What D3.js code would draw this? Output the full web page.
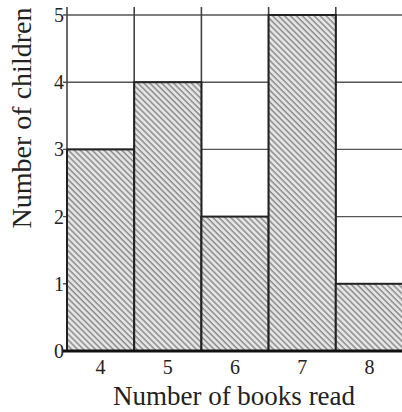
<!DOCTYPE html>
<html><head><meta charset="utf-8">
<script src="https://cdn.jsdelivr.net/npm/d3@7"></script>
<style>body{margin:0;background:#fff}svg{display:block}</style>
</head><body>
<script>
const categories = ["4","5","6","7","8"];
const counts = [3,4,2,5,1];
const yTicks = [0,1,2,3,4,5];
const xTitle = "Number of books read";
const yTitle = "Number of children";

const W = 402, H = 412;
const svg = d3.select("body").append("svg").attr("width", W).attr("height", H);
const font = "'Liberation Serif','Times New Roman',serif";

const defs = svg.append("defs");
const pat = defs.append("pattern").attr("id","hatch").attr("patternUnits","userSpaceOnUse")
  .attr("width",4.2).attr("height",4.2).attr("patternTransform","rotate(-45)");
pat.append("rect").attr("width",4.2).attr("height",4.2).attr("fill","#e6e6e6");
pat.append("line").attr("x1",1).attr("y1",0).attr("x2",1).attr("y2",4.2)
  .attr("stroke","#8a8a8a").attr("stroke-width",1.5);

const x = d3.scaleBand().domain(categories).range([67, 403]).padding(0);
const y = d3.scaleLinear().domain([0,5]).range([351, 15]);
const gridTop = 7;

// horizontal grid
svg.append("g").selectAll("line").data(yTicks.filter(d=>d>0)).join("line")
  .attr("x1", 63).attr("x2", W).attr("y1", d=>y(d)).attr("y2", d=>y(d))
  .attr("stroke","#555").attr("stroke-width",1.4);
// vertical grid
const edges = categories.map(c=>x(c));
svg.append("g").selectAll("line").data(edges).join("line")
  .attr("x1", d=>d).attr("x2", d=>d).attr("y1", gridTop).attr("y2", y(0))
  .attr("stroke","#444").attr("stroke-width",1.6);

// bars
svg.append("g").selectAll("rect").data(categories).join("rect")
  .attr("x", d=>x(d)).attr("width", x.bandwidth())
  .attr("y", (d,i)=>y(counts[i])).attr("height", (d,i)=>y(0)-y(counts[i]))
  .attr("fill","url(#hatch)").attr("stroke","#222").attr("stroke-width",2);

// baseline
svg.append("line").attr("x1",63).attr("x2",W).attr("y1",y(0)).attr("y2",y(0))
  .attr("stroke","#111").attr("stroke-width",3);

// y tick labels
svg.append("g").selectAll("text").data(yTicks).join("text")
  .attr("x", 64).attr("y", d=>y(d)).attr("dy","0.35em").attr("text-anchor","end")
  .attr("font-family",font).attr("font-size",20).attr("fill","#222").text(d=>d);

// x tick labels
svg.append("g").selectAll("text").data(categories).join("text")
  .attr("x", d=>x(d)+x.bandwidth()/2).attr("y", 374).attr("text-anchor","middle")
  .attr("font-family",font).attr("font-size",20).attr("fill","#222").text(d=>d);

// titles
svg.append("text").attr("x", 234).attr("y", 405).attr("text-anchor","middle")
  .attr("font-family",font).attr("font-size",27).attr("fill","#222").text(xTitle);
svg.append("text").attr("transform","translate(31,118) rotate(-90)").attr("text-anchor","middle")
  .attr("font-family",font).attr("font-size",28).attr("fill","#222").text(yTitle);
</script>
</body></html>
